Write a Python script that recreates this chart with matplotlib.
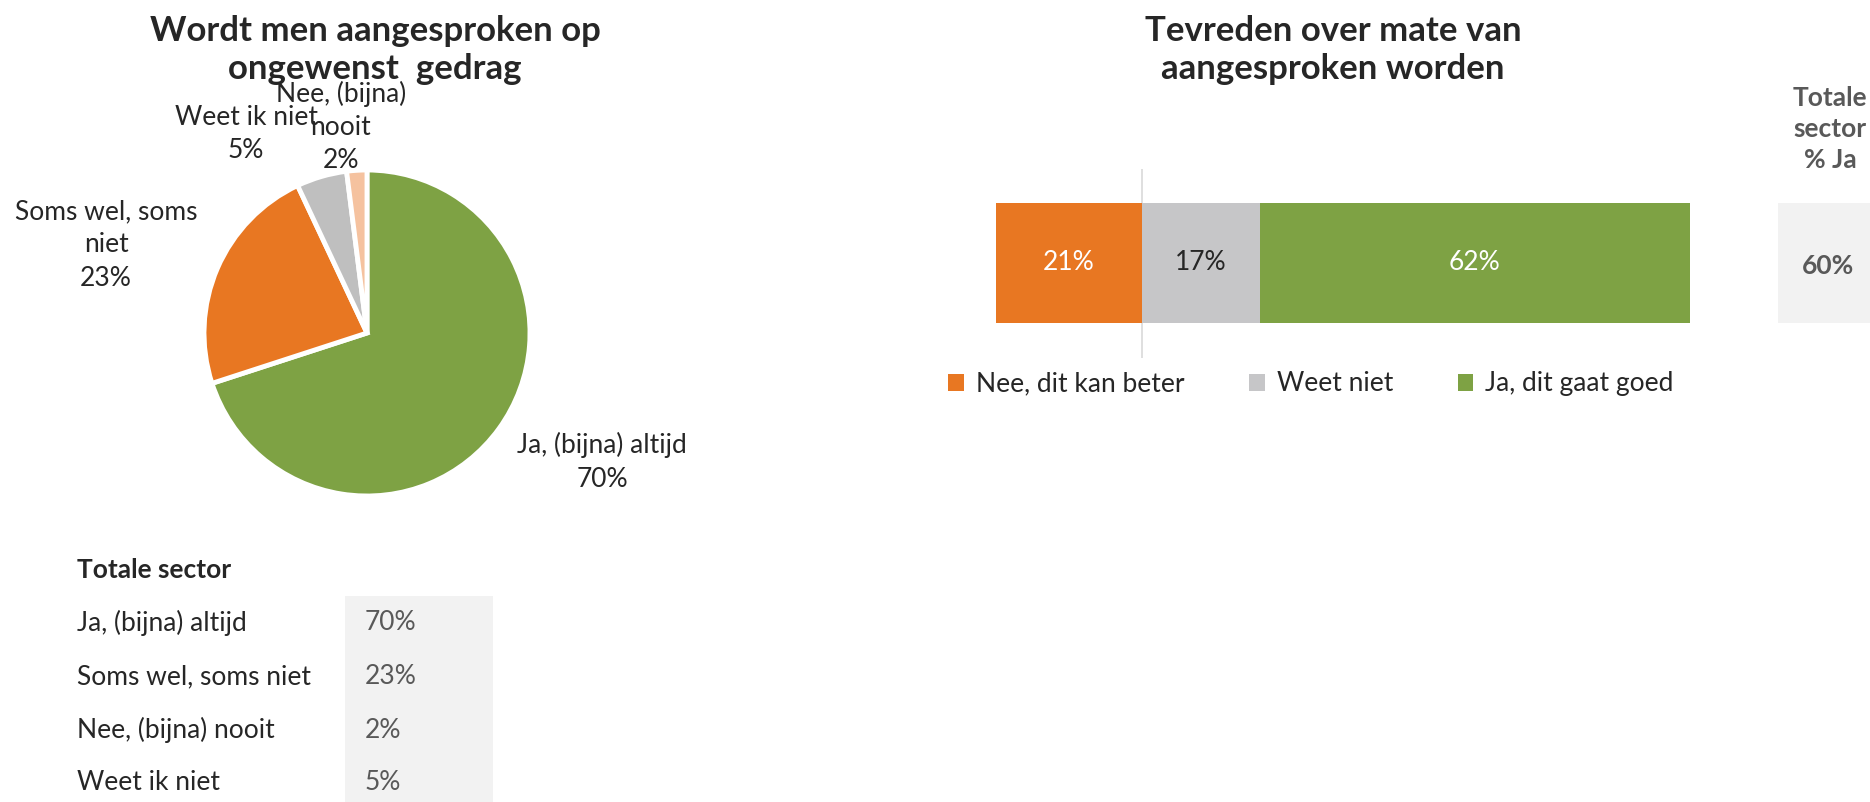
import matplotlib
matplotlib.use("Agg")
import matplotlib.pyplot as plt
from matplotlib.patches import Rectangle

plt.rcParams['font.family'] = ['Lato', 'DejaVu Sans']

# ---------------- data ----------------
pie_title = "Wordt men aangesproken op\nongewenst  gedrag"
pie_categories = ["Ja, (bijna) altijd", "Soms wel, soms niet", "Weet ik niet", "Nee, (bijna) nooit"]
pie_label_text = ["Ja, (bijna) altijd", "Soms wel, soms\nniet", "Weet ik niet", "Nee, (bijna)\nnooit"]
pie_values = [70, 23, 5, 2]

table_title = "Totale sector"
table_labels = ["Ja, (bijna) altijd", "Soms wel, soms niet", "Nee, (bijna) nooit", "Weet ik niet"]
table_values = [70, 23, 2, 5]

bar_title = "Tevreden over mate van\naangesproken worden"
bar_categories = ["Nee, dit kan beter", "Weet niet", "Ja, dit gaat goed"]
bar_values = [21, 17, 62]

sector_header = "Totale\nsector\n% Ja"
sector_ja = 60

# ---------------- styles ----------------
W, H = 1870, 802
pie_colors = ['#7EA244', '#E87722', '#BFBFBF', '#F5C29F']
bar_colors = ['#E87722', '#C6C6C8', '#7EA244']
bar_text_colors = ['white', '#262626', 'white']
TXT = '#262626'
GREYTXT = '#595959'
LBL = 19
TITLE = 25

fig = plt.figure(figsize=(W / 100, H / 100), dpi=100)


def fx(x):
    return x / W


def fy(y):
    return 1 - y / H


def axes_px(x0, y0, x1, y1):
    return fig.add_axes([fx(x0), fy(y1), (x1 - x0) / W, (y1 - y0) / H])


# ---------------- pie ----------------
cx, cy, R = 367, 333, 163
axp = axes_px(cx - R, cy - R, cx + R, cy + R)
axp.pie(pie_values, colors=pie_colors, startangle=90, counterclock=False,
        radius=1, wedgeprops=dict(edgecolor='white', linewidth=3.5))
axp.set_xlim(-1.0, 1.0)
axp.set_ylim(-1.0, 1.0)
axp.set_aspect('equal')
axp.axis('off')

fig.text(fx(375), fy(50), pie_title, ha='center', va='center', fontsize=TITLE,
         fontweight='bold', color=TXT, linespacing=1.2)

pie_label_pos = [(602, 462), (106, 245), (246, 134), (341, 127)]
for txt, v, (x, y) in zip(pie_label_text, pie_values, pie_label_pos):
    fig.text(fx(x), fy(y), f"{txt}\n{v}%", ha='center', va='center',
             fontsize=LBL, color=TXT, linespacing=1.42)

# ---------------- table ----------------
fig.patches.append(Rectangle((fx(345), fy(802)), (493 - 345) / W, (802 - 596) / H,
                             transform=fig.transFigure, facecolor='#F2F2F2',
                             edgecolor='none', zorder=0))
fig.text(fx(77), fy(570), table_title, ha='left', va='center', fontsize=LBL,
         fontweight='bold', color=TXT)
row_y = [623, 677, 730, 782]
for lab, v, y in zip(table_labels, table_values, row_y):
    fig.text(fx(77), fy(y), lab, ha='left', va='center', fontsize=LBL, color=TXT)
    fig.text(fx(365), fy(y), f"{v}%", ha='left', va='center', fontsize=LBL, color=GREYTXT)

# ---------------- stacked bar ----------------
bx0, bx1 = 996, 1690
by0, by1 = 203, 323
ly0, ly1 = 169, 358
axb = axes_px(bx0, ly0, bx1, ly1)
bh = by1 - by0
left = 0
handles = []
for cat, v, c, tc in zip(bar_categories, bar_values, bar_colors, bar_text_colors):
    b = axb.barh(0, v, left=left, height=1, color=c, label=cat, zorder=2)
    handles.append(b)
    axb.text(left + v / 2, 0, f"{v}%", ha='center', va='center', fontsize=LBL,
             color=tc, zorder=3)
    left += v
axb.set_xlim(0, sum(bar_values))
axb.set_ylim(-0.5 - (ly1 - by1) / bh, 0.5 + (by0 - ly0) / bh)
axb.axvline(bar_values[0], color='#D9D9D9', linewidth=1.2, zorder=1)
axb.axis('off')

fig.text(fx(1333), fy(50), bar_title, ha='center', va='center', fontsize=TITLE,
         fontweight='bold', color=TXT, linespacing=1.2)

fig.legend(handles=handles, labels=bar_categories, loc='center left',
           bbox_to_anchor=(fx(948), fy(384)), ncol=3, frameon=False,
           fontsize=LBL, handlelength=0.6, handleheight=0.6, handletextpad=0.45,
           columnspacing=2.45, borderaxespad=0, borderpad=0,
           labelcolor=TXT)

# ---------------- sector box ----------------
fig.patches.append(Rectangle((fx(1778), fy(323)), (1870 - 1778) / W, (323 - 203) / H,
                             transform=fig.transFigure, facecolor='#F2F2F2',
                             edgecolor='none', zorder=0))
fig.text(fx(1828), fy(266), f"{sector_ja}%", ha='center', va='center', fontsize=LBL,
         fontweight='bold', color=GREYTXT)
fig.text(fx(1830), fy(129), sector_header, ha='center', va='center', fontsize=LBL,
         fontweight='bold', color=GREYTXT, linespacing=1.35)

fig.savefig("out.png", dpi=100, facecolor='white')
